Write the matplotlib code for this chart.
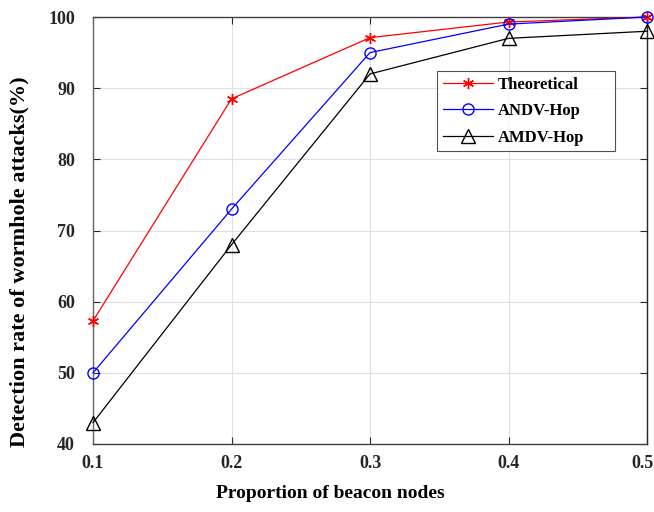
import matplotlib
matplotlib.use("Agg")
import matplotlib.pyplot as plt
import matplotlib.transforms as mtransforms

x = [0.1, 0.2, 0.3, 0.4, 0.5]
theoretical = [57.3, 88.5, 97.1, 99.3, 100.0]
andv = [50.0, 73.0, 95.0, 99.0, 100.0]
amdv = [43.0, 68.0, 92.0, 97.0, 98.0]
xticks = [0.1, 0.2, 0.3, 0.4, 0.5]
yticks = [40, 50, 60, 70, 80, 90, 100]

plt.rcParams['font.family'] = ['Liberation Serif', 'DejaVu Serif']
plt.rcParams['font.weight'] = 'bold'

fig = plt.figure(figsize=(6.54, 5.12), dpi=100)
ax = fig.add_axes([93/654, 68/512, (647-93)/654, (444-17)/512])

ax.plot(x, theoretical, color='red', lw=0.9, marker=(6, 2, 0), ms=8, mew=1.0,
        label='Theoretical', clip_on=False, zorder=3)
ax.plot(x, andv, color='blue', lw=0.9, marker='o', ms=8, mfc='none', mew=1.0,
        label='ANDV-Hop', clip_on=False, zorder=3)
ax.plot(x, amdv, color='black', lw=0.9, marker='^', ms=9.5, mfc='none', mew=1.0,
        label='AMDV-Hop', clip_on=False, zorder=3)

ax.set_xlim(0.1, 0.5)
ax.set_ylim(40, 100)
ax.set_xticks(xticks)
ax.set_yticks(yticks)
ax.set_xticklabels([f'{v:.1f}' for v in xticks])
ax.grid(True, color='#e0e0e0', lw=0.8)
ax.set_axisbelow(True)
ax.tick_params(direction='in', length=5, width=0.8, top=True, right=True,
               labelsize=13, colors='#262626')
ax.tick_params(axis='x', pad=8)
ax.tick_params(axis='y', pad=13)
ax.spines['left'].set_color('#666666')
ax.spines['bottom'].set_color('#404040')
ax.spines['top'].set_color('#404040')
ax.spines['right'].set_color('#262626')
for s in ax.spines.values():
    s.set_linewidth(1.0)

# nudge the last x tick label left so it stays inside the figure
last = ax.get_xticklabels()[-1]
last.set_transform(last.get_transform() +
                   mtransforms.ScaledTranslation(-5/100, 0, fig.dpi_scale_trans))

ax.set_xlabel('Proportion of beacon nodes', fontsize=14, fontweight='bold')
ax.xaxis.set_label_coords(0.428, -0.095)
ax.set_ylabel('Detection rate of wormhole attacks(%)', fontsize=16, fontweight='bold')
ax.yaxis.set_label_coords(-0.115, 0.426)

leg = ax.legend(loc='upper left', bbox_to_anchor=(0.621, 0.5, 0.321, 0.3735),
                mode='expand', borderaxespad=0,
                fontsize=12, frameon=True, fancybox=False, handlelength=3.0,
                borderpad=0.35, labelspacing=0.62, handletextpad=0.3)
leg.get_frame().set_edgecolor('#262626')
leg.get_frame().set_linewidth(0.8)
for t in leg.get_texts():
    t.set_fontweight('bold')

fig.savefig('out.png', dpi=100)
